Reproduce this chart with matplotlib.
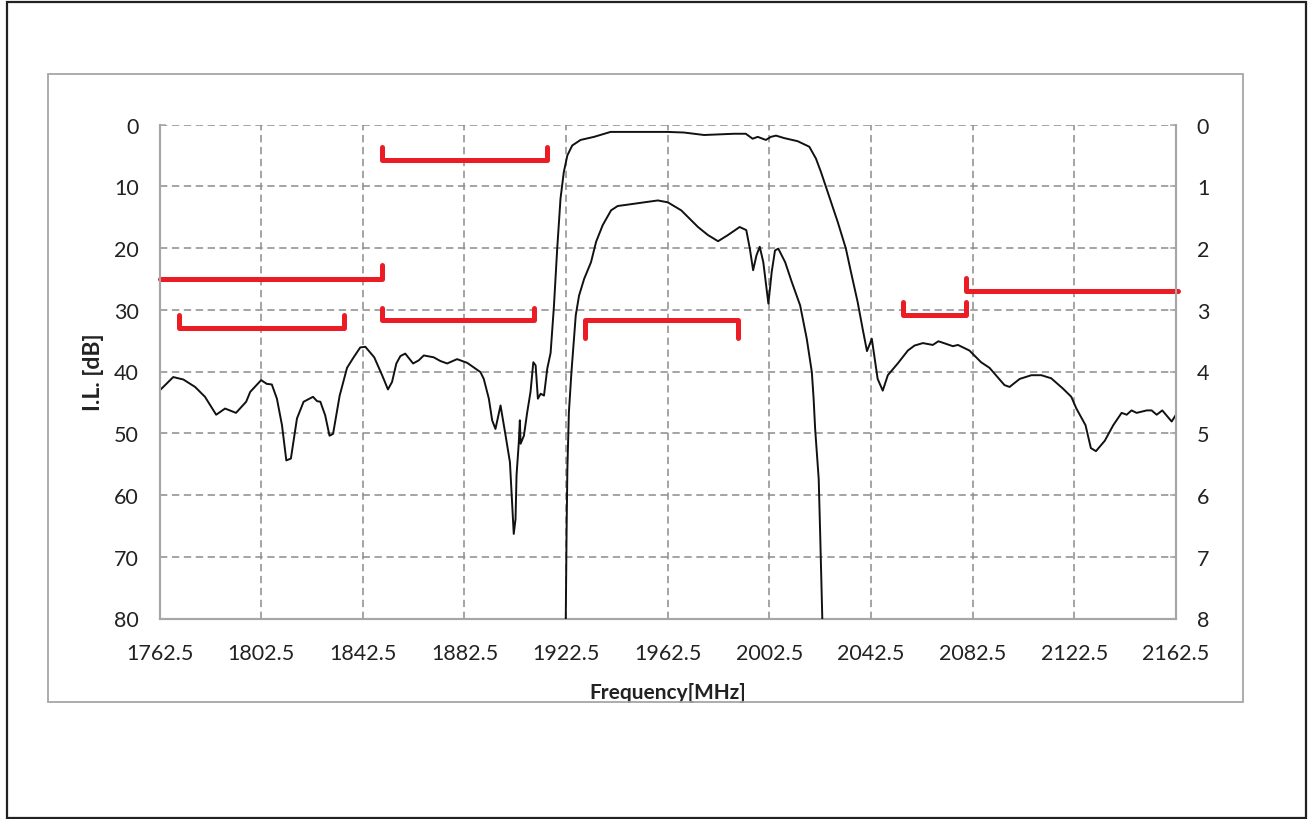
import matplotlib
matplotlib.use("Agg")
import matplotlib.pyplot as plt
from matplotlib.patches import Rectangle

# ---------------- data ----------------
x_ticks = [1762.5, 1802.5, 1842.5, 1882.5, 1922.5, 1962.5, 2002.5, 2042.5, 2082.5, 2122.5, 2162.5]
left_ticks = [0, 10, 20, 30, 40, 50, 60, 70, 80]
right_ticks = [0, 1, 2, 3, 4, 5, 6, 7, 8]

# wide-band response (left axis, dB)
wide_freq = [1762.5, 1767.9, 1771.9, 1776.5, 1780.4, 1784.8, 1788.3, 1792.6, 1796.6, 1798.2,
             1802.5, 1804.7, 1806.7, 1808.7, 1810.7, 1812.4, 1814.2, 1816.6, 1819.2, 1822.9,
             1824.5, 1825.8, 1827.7, 1829.4, 1830.8, 1833.4, 1836.3, 1838.9, 1841.5, 1843.5,
             1847.0, 1850.1, 1852.4, 1854.0, 1855.7, 1857.3, 1859.2, 1862.3, 1864.5, 1866.5,
             1870.4, 1873.0, 1875.7, 1879.6, 1883.6, 1888.8, 1890.1, 1892.1, 1893.4, 1894.7,
             1896.7, 1898.7, 1900.4, 1901.9, 1902.6, 1903.0, 1903.9, 1904.3, 1904.6, 1905.9,
             1907.2, 1908.5, 1909.6, 1910.5, 1911.4, 1912.5, 1913.8, 1915.1, 1916.4, 1917.7,
             1919.0, 1920.3, 1921.6, 1923.0, 1924.9, 1928.2, 1933.5, 1940.0, 1962.4, 1968.9,
             1976.8, 1988.6, 1993.2, 1995.9, 1997.9, 2001.1, 2003.1, 2005.1, 2008.3, 2013.6,
             2018.2, 2020.8, 2022.8, 2025.4, 2029.4, 2032.6, 2034.6, 2037.2, 2039.2, 2040.9,
             2042.8, 2045.1, 2047.1, 2049.1, 2053.0, 2057.0, 2059.6, 2062.9, 2066.8, 2069.0,
             2074.7, 2076.7, 2081.2, 2085.8, 2089.1, 2095.0, 2097.0, 2101.0, 2105.6, 2109.5,
             2113.4, 2118.1, 2121.3, 2123.3, 2126.9, 2129.0, 2131.0, 2134.5, 2137.8, 2141.1,
             2143.1, 2145.0, 2147.0, 2151.0, 2152.9, 2154.9, 2157.1, 2160.8, 2162.5]
wide_db = [43.1, 40.9, 41.3, 42.5, 44.1, 47.0, 46.0, 46.7, 44.9, 43.3,
           41.4, 42.0, 42.1, 44.4, 48.7, 54.4, 54.1, 47.6, 44.9, 44.1,
           44.8, 44.9, 47.1, 50.4, 50.1, 43.9, 39.4, 37.7, 36.1, 36.0,
           37.7, 40.6, 42.9, 41.7, 38.7, 37.5, 37.1, 38.7, 38.2, 37.4,
           37.7, 38.3, 38.7, 38.0, 38.6, 40.1, 41.2, 44.4, 47.9, 49.3,
           45.5, 50.4, 54.7, 66.3, 63.9, 56.8, 51.4, 47.9, 51.7, 50.4,
           46.6, 43.3, 38.5, 39.0, 44.4, 43.6, 43.9, 39.5, 37.0, 29.5,
           20.1, 12.0, 7.7, 5.0, 3.4, 2.5, 2.0, 1.2, 1.2, 1.3,
           1.7, 1.5, 1.5, 2.3, 2.0, 2.5, 2.0, 1.8, 2.2, 2.7,
           3.6, 5.5, 7.7, 10.9, 15.8, 20.1, 23.9, 28.7, 33.1, 36.7,
           34.7, 41.2, 43.1, 40.6, 38.7, 36.6, 35.8, 35.4, 35.7, 35.1,
           35.9, 35.7, 36.6, 38.5, 39.4, 42.2, 42.5, 41.2, 40.6, 40.6,
           41.1, 42.8, 44.1, 46.0, 48.7, 52.4, 52.9, 51.2, 48.7, 46.7,
           47.0, 46.3, 46.7, 46.3, 46.3, 47.0, 46.3, 48.1, 47.0]

# passband insertion loss (right axis, dB)
pass_freq = [1922.3, 1922.7, 1923.0, 1923.6, 1924.6, 1925.6, 1926.3, 1927.6, 1929.6, 1932.3,
             1934.3, 1936.9, 1940.2, 1942.8, 1948.1, 1953.3, 1958.6, 1962.5, 1967.8, 1974.4,
             1978.3, 1982.3, 1986.2, 1990.8, 1993.4, 1994.8, 1996.1, 1997.4, 1998.7, 2000.1,
             2002.1, 2003.4, 2004.7, 2006.0, 2008.7, 2011.3, 2014.6, 2017.2, 2019.2, 2019.9,
             2020.5, 2021.9, 2022.5, 2023.5]
pass_db = [8.3, 6.55, 5.58, 4.66, 4.01, 3.47, 3.09, 2.77, 2.50, 2.23,
           1.90, 1.63, 1.39, 1.32, 1.29, 1.26, 1.23, 1.26, 1.39, 1.66,
           1.79, 1.89, 1.79, 1.66, 1.71, 2.01, 2.36, 2.12, 1.98, 2.23,
           2.90, 2.39, 2.04, 2.01, 2.23, 2.55, 2.93, 3.47, 4.01, 4.44,
           4.93, 5.74, 6.66, 8.3]

# red specification brackets (left axis units)
spec_start = [1850, 1762.5, 1770, 1850, 1930, 2055, 2080]
spec_end = [1915, 1850, 1835, 1910, 1990, 2080, 2163.3]
spec_level = [5.7, 25.0, 32.9, 31.7, 31.7, 30.9, 27.0]
spec_start_tip = [3.7, None, 30.9, 29.7, 34.5, 28.8, 24.8]
spec_end_tip = [3.7, 22.8, 30.9, 29.7, 34.5, 28.8, None]

# ---------------- figure ----------------
W, H = 1313, 820
fig = plt.figure(figsize=(W / 100, H / 100), dpi=100)
FONT = "Lato"
TXT = "#222222"
GRID = "#8c8c8c"
SPINE = "#a6a6a6"

# outer black frame and chart-area frame
fig.patches.append(Rectangle((7 / W, 1 - 819 / H), (1306 - 7) / W, (819 - 3) / H,
                             transform=fig.transFigure, fill=False, edgecolor="#222222",
                             linewidth=1.6, zorder=0))
fig.patches.append(Rectangle((47.5 / W, 1 - 703 / H), (1243 - 47.5) / W, (703 - 75) / H,
                             transform=fig.transFigure, fill=False, edgecolor=SPINE,
                             linewidth=1.3, zorder=0))

ax_l, ax_r, ax_t, ax_b = 159.5, 1176, 125.5, 619.5
ax = fig.add_axes([ax_l / W, 1 - ax_b / H, (ax_r - ax_l) / W, (ax_b - ax_t) / H])
ax2 = ax.twinx()

ax.set_xlim(x_ticks[0], x_ticks[-1])
ax.set_ylim(left_ticks[-1], left_ticks[0])
ax2.set_ylim(right_ticks[-1], right_ticks[0])

ax.set_xticks(x_ticks)
ax.set_xticklabels([f"{v:.1f}" for v in x_ticks])
ax.set_yticks(left_ticks)
ax2.set_yticks(right_ticks)

ax.grid(True, color=GRID, linestyle=(0, (4.8, 3)), linewidth=1.1)
ax.set_axisbelow(True)

for a in (ax, ax2):
    for s in a.spines.values():
        s.set_color(SPINE)
        s.set_linewidth(1.5)
    a.spines["top"].set_visible(False)

ax.tick_params(axis="both", direction="in", length=4, color=SPINE, width=1.1,
               labelsize=15.5, labelcolor=TXT)
ax.tick_params(axis="x", pad=18)
ax.tick_params(axis="y", pad=15)
ax2.tick_params(axis="y", direction="in", length=4, color=SPINE, width=1.1,
                labelsize=15.5, labelcolor=TXT, pad=15)
for lab in ax.get_xticklabels() + ax.get_yticklabels() + ax2.get_yticklabels():
    lab.set_fontfamily(FONT)

ax.set_xlabel("Frequency[MHz]", fontsize=15, fontweight="bold", family=FONT,
              color=TXT, labelpad=13)
ax.set_ylabel("I.L. [dB]", fontsize=16.5, fontweight="bold", family=FONT,
              color=TXT, labelpad=7)

# curves
ax.plot(wide_freq, wide_db, color="#111111", linewidth=1.4, zorder=3)
ax2.plot(pass_freq, pass_db, color="#111111", linewidth=1.4, zorder=3)

# red spec brackets
for f1, f2, lv, t1, t2 in zip(spec_start, spec_end, spec_level, spec_start_tip, spec_end_tip):
    xs, ys = [], []
    if t1 is not None:
        xs.append(f1); ys.append(t1)
    xs += [f1, f2]; ys += [lv, lv]
    if t2 is not None:
        xs.append(f2); ys.append(t2)
    ax.plot(xs, ys, color="#ec1c24", linewidth=3.6, solid_capstyle="round",
            solid_joinstyle="round", clip_on=False, zorder=4)

fig.savefig("out.png", dpi=100)
